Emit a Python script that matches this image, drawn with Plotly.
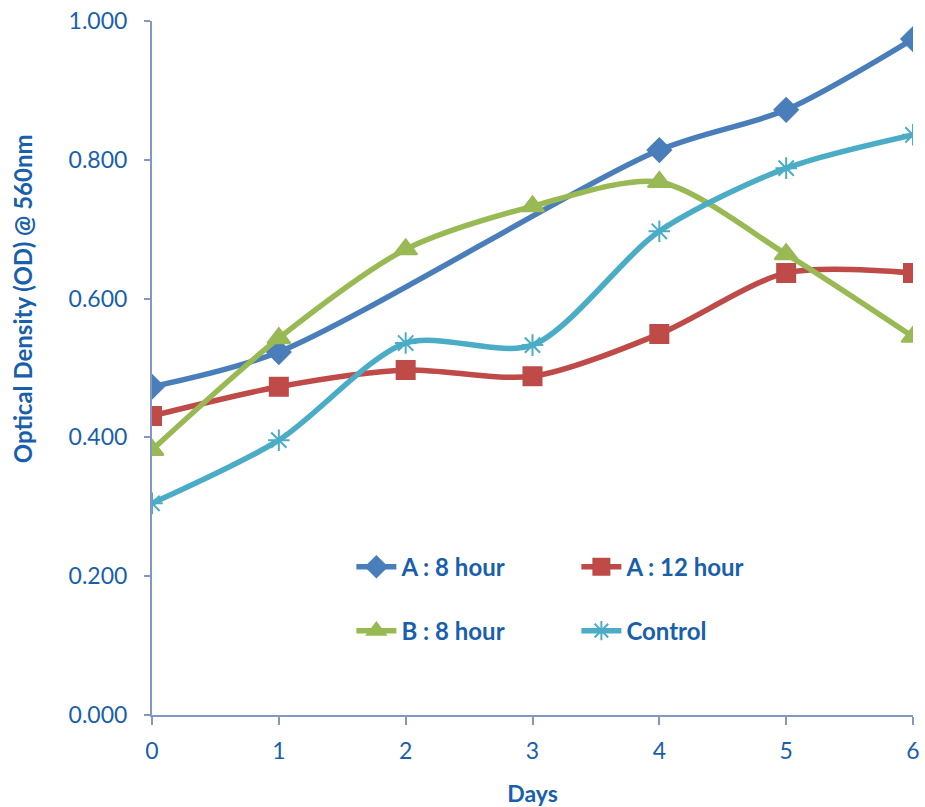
import plotly.graph_objects as go

days = [0, 1, 2, 3, 4, 5, 6]
a_8hour = [0.473, 0.523, None, None, 0.814, 0.872, 0.974]
a_12hour = [0.431, 0.473, 0.497, 0.488, 0.549, 0.637, 0.637]
b_8hour = [0.382, 0.543, 0.671, 0.733, 0.768, 0.664, 0.545]
control = [0.305, 0.396, 0.536, 0.533, 0.697, 0.788, 0.836]
y_ticks = [0.0, 0.2, 0.4, 0.6, 0.8, 1.0]

TEXT_BLUE = "#1a5fab"
AXIS_COLOR = "#8497c2"
FONT = "Lato"

fig = go.Figure()

series = [
    ("A : 8 hour", a_8hour, "#4a7ebb", "diamond", 18, "legend"),
    ("A : 12 hour", a_12hour, "#be4b48", "square", 18, "legend"),
    ("B : 8 hour", b_8hour, "#98b954", "triangle-up", 20, "legend2"),
    ("Control", control, "#4bacc6", "asterisk-open", 18, "legend2"),
]

for name, vals, color, symbol, size, leg in series:
    fig.add_trace(go.Scatter(
        x=days, y=vals, name=name, mode="lines+markers",
        connectgaps=True,
        line=dict(color=color, width=5.5, shape="spline", smoothing=0.8),
        marker=dict(symbol=symbol, size=size, color=color,
                    line=dict(color=color, width=2)),
        legend=leg,
    ))

legend_style = dict(
    orientation="h", xanchor="left", yanchor="middle",
    bgcolor="rgba(0,0,0,0)", entrywidth=170, entrywidthmode="pixels",
    font=dict(family=FONT, size=24, color=TEXT_BLUE, weight="bold"),
    itemwidth=40, tracegroupgap=0,
)

fig.update_layout(
    width=925, height=807,
    margin=dict(l=152, r=12, t=21, b=92),
    plot_bgcolor="white", paper_bgcolor="white",
    font=dict(family=FONT, color=TEXT_BLUE),
    xaxis=dict(
        range=[0, 6], tickvals=days, ticktext=[str(d) for d in days],
        showgrid=False, zeroline=False, showline=True, automargin=False,
        linecolor=AXIS_COLOR, linewidth=2,
        ticks="outside", ticklen=8, tickwidth=2, tickcolor=AXIS_COLOR,
        ticklabelstandoff=6,
        tickfont=dict(family=FONT, size=23, color=TEXT_BLUE),
        title=dict(text="Days", standoff=26,
                   font=dict(family=FONT, size=23, color=TEXT_BLUE, weight="bold")),
    ),
    yaxis=dict(
        range=[0, 1.0], tickvals=y_ticks, tickformat=".3f",
        showgrid=False, zeroline=False, showline=True, automargin=False,
        linecolor=AXIS_COLOR, linewidth=2,
        ticks="outside", ticklen=6, tickwidth=2, tickcolor=AXIS_COLOR,
        ticklabelstandoff=12,
        tickfont=dict(family=FONT, size=23, color=TEXT_BLUE),
    ),
    legend=dict(x=0.262, y=0.213, **legend_style),
    legend2=dict(x=0.262, y=0.121, **legend_style),
    annotations=[dict(
        text="Optical Density (OD) @ 560nm", textangle=-90,
        xref="paper", yref="paper", x=-0.17, y=0.60,
        xanchor="center", yanchor="middle", showarrow=False,
        font=dict(family=FONT, size=24, color=TEXT_BLUE, weight="bold"),
    )],
)

fig.write_html("out.html")
